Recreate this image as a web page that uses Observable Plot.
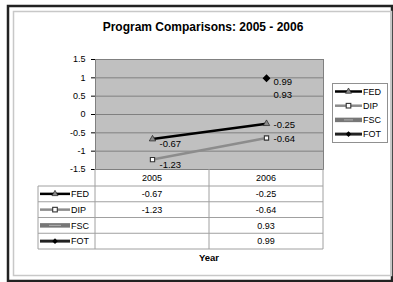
<!DOCTYPE html>
<html>
<head>
<meta charset="utf-8">
<script src="https://cdn.jsdelivr.net/npm/d3@7"></script>
<script src="https://cdn.jsdelivr.net/npm/@observablehq/plot@0.6"></script>
<style>
  html, body { margin: 0; padding: 0; background: #fff; overflow: hidden; }
  #chart svg { display: block; overflow: hidden; }
</style>
</head>
<body>
<div id="chart"></div>
<script>
// ---- data ----
const title = "Program Comparisons: 2005 - 2006";
const xTitle = "Year";
const years = ["2005", "2006"];
const seriesNames = ["FED", "DIP", "FSC", "FOT"];
const fedValues = [-0.67, -0.25];
const dipValues = [-1.23, -0.64];
const fscValues = [null, 0.93];
const fotValues = [null, 0.99];
const yTicks = [1.5, 1, 0.5, 0, -0.5, -1, -1.5];

const valuesBySeries = { FED: fedValues, DIP: dipValues, FSC: fscValues, FOT: fotValues };
const rows = [];
for (const s of seriesNames) {
  valuesBySeries[s].forEach((v, i) => { if (v != null) rows.push({ series: s, year: years[i], value: v }); });
}
const fmt = v => v.toFixed(2);
const font = "'Liberation Sans', Arial, sans-serif";

const plot = Plot.plot({
  width: 393,
  height: 282,
  marginLeft: 95,
  marginRight: 70,
  marginTop: 59,
  marginBottom: 113,
  style: { fontFamily: font, fontSize: "9px", background: "#fff", color: "#000", overflow: "hidden" },
  x: { type: "point", domain: years, padding: 0.5, axis: null },
  y: { domain: [-1.5, 1.5], ticks: yTicks, tickSize: 4, tickPadding: 6, tickFormat: d => String(d), label: null },
  marks: [
    Plot.frame({ fill: "#c0c0c0", stroke: "#808080" }),
    Plot.ruleY(yTicks, { stroke: "#808080", strokeWidth: 1 }),
    Plot.line(rows.filter(d => d.series === "DIP"), { x: "year", y: "value", stroke: "#8c8c8c", strokeWidth: 2.5 }),
    Plot.line(rows.filter(d => d.series === "FED"), { x: "year", y: "value", stroke: "#000", strokeWidth: 2.5 }),
    Plot.dot(rows.filter(d => d.series === "FED"), { x: "year", y: "value", symbol: "triangle", r: 2.4, fill: "#8a8a8a", stroke: "#222", strokeWidth: 0.7 }),
    Plot.dot(rows.filter(d => d.series === "DIP"), { x: "year", y: "value", symbol: "square", r: 2.4, fill: "#fff", stroke: "#333", strokeWidth: 1.1 }),
    Plot.dot(rows.filter(d => d.series === "FOT"), { x: "year", y: "value", symbol: "diamond2", r: 2.6, fill: "#000", stroke: "#000" }),
    Plot.text(rows.filter(d => d.year === "2005"), { x: "year", y: "value", text: d => fmt(d.value), textAnchor: "start", dx: 7, dy: 5, fontSize: 9.5, fill: "#000" }),
    Plot.text(rows.filter(d => d.year === "2006" && (d.series === "FED" || d.series === "DIP")), { x: "year", y: "value", text: d => fmt(d.value), textAnchor: "start", dx: 7, dy: 1, fontSize: 9.5, fill: "#000" }),
    Plot.text(rows.filter(d => d.series === "FOT"), { x: "year", y: "value", text: d => fmt(d.value), textAnchor: "start", dx: 7, dy: 4, fontSize: 9.5, fill: "#000" }),
    Plot.text(rows.filter(d => d.series === "FSC"), { x: "year", y: "value", text: d => fmt(d.value), textAnchor: "start", dx: 7, dy: 15, fontSize: 9.5, fill: "#000" })
  ]
});

document.getElementById("chart").appendChild(plot);

// ---- decorations: frame, title, data table, legend ----
const svg = d3.select(plot);
const xs = plot.scale("x");
const ys = plot.scale("y");
const [x0, x1] = xs.range;
const xMid = (xs.apply(years[0]) + xs.apply(years[1])) / 2;
const yBottom = ys.apply(-1.5);

// chart border
svg.insert("rect", ":first-child").attr("x", 13.5).attr("y", 11.5).attr("width", 378).attr("height", 264)
  .attr("fill", "none").attr("stroke", "#c8c8c8").attr("stroke-width", 1.5);
svg.insert("rect", ":first-child").attr("x", 8).attr("y", 6).attr("width", 384).attr("height", 275)
  .attr("fill", "none").attr("stroke", "#222").attr("stroke-width", 2.5);

svg.append("text").attr("x", 203).attr("y", 31).attr("text-anchor", "middle")
  .attr("font-family", font).attr("font-size", 12).attr("font-weight", "bold").text(title);

// key symbol drawer
function key(g, s, xa, xb, y) {
  const xm = (xa + xb) / 2;
  if (s === "FED") {
    g.append("line").attr("x1", xa).attr("x2", xb).attr("y1", y).attr("y2", y).attr("stroke", "#000").attr("stroke-width", 2.5);
    g.append("path").attr("d", d3.symbol(d3.symbolTriangle, 16)()).attr("transform", `translate(${xm},${y})`).attr("fill", "#8a8a8a").attr("stroke", "#222").attr("stroke-width", 0.7);
  } else if (s === "DIP") {
    g.append("line").attr("x1", xa).attr("x2", xb).attr("y1", y).attr("y2", y).attr("stroke", "#8c8c8c").attr("stroke-width", 2.5);
    g.append("rect").attr("x", xm - 2.3).attr("y", y - 2.3).attr("width", 4.6).attr("height", 4.6).attr("fill", "#fff").attr("stroke", "#333").attr("stroke-width", 1.1);
  } else if (s === "FSC") {
    g.append("line").attr("x1", xa).attr("x2", xb).attr("y1", y).attr("y2", y).attr("stroke", "#777").attr("stroke-width", 4.5);
    g.append("line").attr("x1", xa + 9).attr("x2", xb - 9).attr("y1", y).attr("y2", y).attr("stroke", "#b0b0b0").attr("stroke-width", 1);
  } else {
    g.append("line").attr("x1", xa).attr("x2", xb).attr("y1", y).attr("y2", y).attr("stroke", "#222").attr("stroke-width", 3);
    g.append("path").attr("d", d3.symbol(d3.symbolDiamond2, 20)()).attr("transform", `translate(${xm},${y})`).attr("fill", "#000");
  }
}

// data table
const tbl = svg.append("g").attr("font-family", font).attr("font-size", 9).attr("text-anchor", "start");
const rowTop = 186, rowH = 15.75, tblLeft = 38;
const tblBottom = rowTop + rowH * seriesNames.length;
const lineColor = "#a0a0a0";
[x0, xMid, x1].forEach(x => tbl.append("line").attr("x1", x).attr("x2", x).attr("y1", yBottom).attr("y2", tblBottom).attr("stroke", lineColor));
tbl.append("line").attr("x1", tblLeft).attr("x2", tblLeft).attr("y1", rowTop).attr("y2", tblBottom).attr("stroke", lineColor);
for (let i = 0; i <= seriesNames.length; i++) {
  const y = rowTop + i * rowH;
  tbl.append("line").attr("x1", tblLeft).attr("x2", x1).attr("y1", y).attr("y2", y).attr("stroke", lineColor);
}
years.forEach(yr => tbl.append("text").attr("x", xs.apply(yr)).attr("y", (yBottom + rowTop) / 2 + 3.2).attr("text-anchor", "middle").text(yr));
seriesNames.forEach((s, i) => {
  const cy = rowTop + rowH * (i + 0.5);
  key(tbl, s, 40, 70, cy);
  tbl.append("text").attr("x", 71).attr("y", cy + 3.2).attr("text-anchor", "start").text(s);
  valuesBySeries[s].forEach((v, j) => {
    if (v != null) tbl.append("text").attr("x", xs.apply(years[j])).attr("y", cy + 3.2).attr("text-anchor", "middle").text(fmt(v));
  });
});
svg.append("text").attr("x", xMid).attr("y", 260.5).attr("text-anchor", "middle")
  .attr("font-family", font).attr("font-size", 9.5).attr("font-weight", "bold").text(xTitle);

// legend
const lg = svg.append("g").attr("font-family", font).attr("font-size", 9).attr("text-anchor", "start");
lg.append("rect").attr("x", 332.5).attr("y", 83.5).attr("width", 55).attr("height", 59).attr("fill", "#fff").attr("stroke", "#909090");
seriesNames.forEach((s, i) => {
  const cy = 91.5 + i * 14.2;
  key(lg, s, 335, 362, cy);
  lg.append("text").attr("x", 363).attr("y", cy + 3.2).attr("text-anchor", "start").text(s);
});
</script>
</body>
</html>
